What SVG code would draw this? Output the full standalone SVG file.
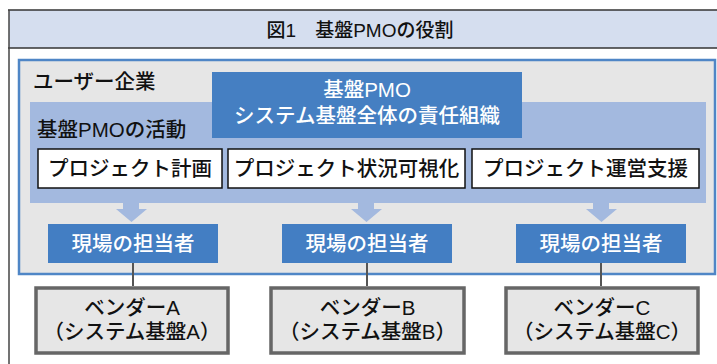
<svg xmlns="http://www.w3.org/2000/svg" width="717" height="364" viewBox="0 0 717 364">
<style>
text{font-family:"Liberation Sans","Noto Sans CJK JP",sans-serif;font-weight:500;}
.dark{fill:#111;font-size:20.5px;text-anchor:middle;}
.white{fill:#fff;font-size:20.5px;text-anchor:middle;}
.lbl{fill:#111;font-size:20.5px;}
.item{fill:#fff;stroke:#111;stroke-width:1.5;}
.staff{fill:#437ec3;}
.vendor{fill:#e6e6e6;stroke:#666;stroke-width:3.5;}
.conn{stroke:#555;stroke-width:2;fill:none;}
.arrow{fill:#a3b9df;}
</style>
<rect x="0" y="0" width="717" height="364" fill="#fff"/>
<g id="frame">
<rect x="9" y="10" width="712" height="38" fill="#d5deef"/>
<line x1="8" y1="10" x2="717" y2="10" stroke="#333" stroke-width="1.5"/>
<line x1="8" y1="48" x2="717" y2="48" stroke="#333" stroke-width="1.5"/>
<line x1="9" y1="10" x2="9" y2="364" stroke="#444" stroke-width="1.5"/>
<text x="360" y="37" class="dark" style="font-size:19px">図1　基盤PMOの役割</text>
</g>
<g id="user">
<rect x="19" y="60" width="696" height="214" fill="#e6e6e6" stroke="#4f86c6" stroke-width="2.5"/>
<text x="33" y="89" class="lbl">ユーザー企業</text>
</g>
<g id="activity">
<rect x="30" y="102" width="676" height="101" fill="#a3b9df"/>
<text x="37" y="137" class="lbl">基盤PMOの活動</text>
</g>
<g id="pmo">
<rect x="212" y="72" width="310" height="66" fill="#457fc2"/>
<text x="367" y="97" class="white">基盤PMO</text>
<text x="367" y="123" class="white">システム基盤全体の責任組織</text>
</g>
<g id="act1"><rect x="38" y="149" width="184" height="39" class="item"/><text x="130" y="176" class="dark">プロジェクト計画</text></g>
<g id="act2"><rect x="228" y="149" width="237" height="39" class="item"/><text x="346.5" y="176" class="dark">プロジェクト状況可視化</text></g>
<g id="act3"><rect x="472" y="149" width="227" height="39" class="item"/><text x="585.5" y="176" class="dark">プロジェクト運営支援</text></g>
<g id="connectors">
<path class="arrow" d="M123,202 H139 V209 H147 L131.5,222 L116,209 H123 Z"/>
<path class="arrow" d="M358,202 H374 V209 H382 L366.5,222 L351,209 H358 Z"/>
<path class="arrow" d="M593,202 H609 V209 H617 L601.5,222 L586,209 H593 Z"/>
<line class="conn" x1="133" y1="263" x2="133" y2="286"/>
<line class="conn" x1="367" y1="263" x2="367" y2="286"/>
<line class="conn" x1="601" y1="263" x2="601" y2="286"/>
</g>
<g id="staff1"><rect x="48" y="224" width="170" height="39" class="staff"/><text x="133" y="251" class="white">現場の担当者</text></g>
<g id="staff2"><rect x="282" y="224" width="170" height="39" class="staff"/><text x="367" y="251" class="white">現場の担当者</text></g>
<g id="staff3"><rect x="516" y="224" width="170" height="39" class="staff"/><text x="601" y="251" class="white">現場の担当者</text></g>
<g id="vendorA"><rect x="36" y="288" width="192" height="65" class="vendor"/><text x="132" y="315" class="dark">ベンダーA</text><text x="132" y="339" class="dark">（システム基盤A）</text></g>
<g id="vendorB"><rect x="271" y="288" width="193" height="65" class="vendor"/><text x="367.5" y="315" class="dark">ベンダーB</text><text x="367.5" y="339" class="dark">（システム基盤B）</text></g>
<g id="vendorC"><rect x="506" y="288" width="192" height="65" class="vendor"/><text x="602" y="315" class="dark">ベンダーC</text><text x="602" y="339" class="dark">（システム基盤C）</text></g>
</svg>
